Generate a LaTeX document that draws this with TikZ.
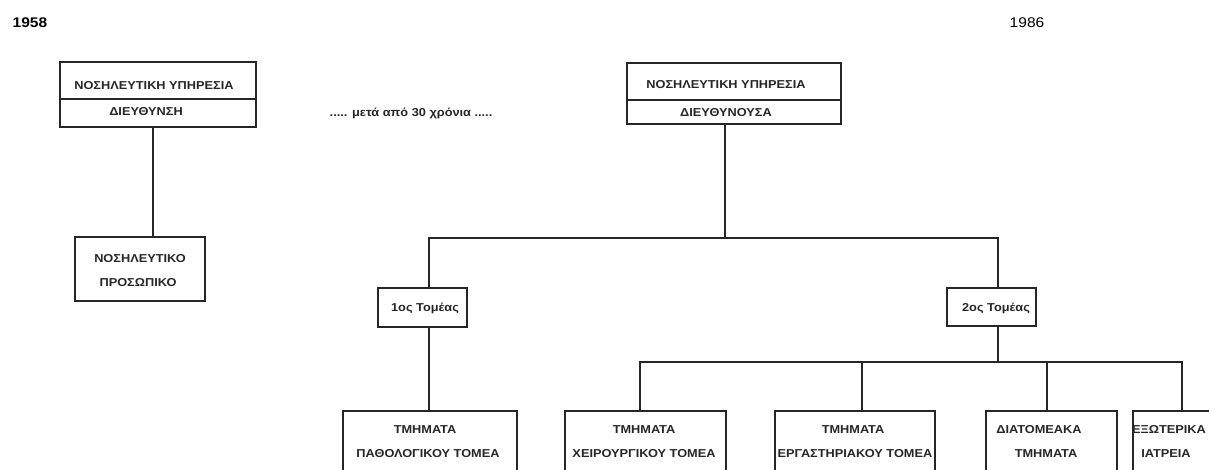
\documentclass[tikz,border=0pt]{standalone}
\usepackage{fontspec}
\setmainfont{Liberation Sans}
\newfontfamily\boxfont[FakeStretch=1.11]{Liberation Sans}
\begin{document}
\begin{tikzpicture}[x=1pt,y=-1pt,
  ln/.style={line width=1.5pt,draw=black!85},
  box/.style={ln,rectangle,inner sep=0pt,fill=none},
  txt/.style={inner sep=0pt,anchor=base,font=\boxfont\bfseries\fontsize{11.5}{13}\selectfont,text=black!85},
  stxt/.style={inner sep=0pt,anchor=base,font=\boxfont\bfseries\fontsize{11.5}{13}\selectfont,text=black!85}]
\useasboundingbox (0,0) rectangle (1209,470);
\clip (0,0) rectangle (1209,470);
% years
\node[inner sep=0pt,anchor=base,font=\boxfont\bfseries\fontsize{14}{16}\selectfont] (y1) at (30,27.5) {1958};
\node[inner sep=0pt,anchor=base,font=\boxfont\fontsize{14}{16}\selectfont] (y2) at (1027,27.5) {1986};
% left (1958)
\node[box,minimum width=196pt,minimum height=37pt] (ltop) at (158,80.5) {};
\node[box,minimum width=196pt,minimum height=28pt] (lbot) at (158,113) {};
\node[txt] (lt1) at (154,90) {ΝΟΣΗΛΕΥΤΙΚΗ ΥΠΗΡΕΣΙΑ};
\node[txt] (lt2) at (146,116) {ΔΙΕΥΘΥΝΣΗ};
\node[box,minimum width=130pt,minimum height=64pt] (staff) at (140,269) {};
\node[txt] (st1) at (140,262) {ΝΟΣΗΛΕΥΤΙΚΟ};
\node[txt] (st2) at (138,286) {ΠΡΟΣΩΠΙΚΟ};
\draw[ln] (153,0 |- lbot.south) -- (153,0 |- staff.north);
% middle text
\node[stxt] (mid) at (411,117) {..... μετά από 30 χρόνια .....};
% right (1986)
\node[box,minimum width=214pt,minimum height=37pt] (rtop) at (734,81.5) {};
\node[box,minimum width=214pt,minimum height=24pt] (rbot) at (734,112) {};
\node[txt] (rt1) at (726,89) {ΝΟΣΗΛΕΥΤΙΚΗ ΥΠΗΡΕΣΙΑ};
\node[txt] (rt2) at (726,117) {ΔΙΕΥΘΥΝΟΥΣΑ};
% sectors
\node[box,minimum width=89pt,minimum height=39pt] (s1) at (422.5,307.5) {};
\node[stxt] (s1t) at (425,311) {1ος Τομέας};
\node[box,minimum width=89pt,minimum height=38pt] (s2) at (991.5,307) {};
\node[stxt] (s2t) at (996,311) {2ος Τομέας};
\coordinate (h1) at (429,238);
\coordinate (h2) at (998,238);
\draw[ln] (725,0 |- rbot.south) -- (725,238);
\draw[ln] (429,0 |- s1.north) -- (h1) -- (h2) -- (998,0 |- s2.north);
% departments
\node[box,minimum width=174pt,minimum height=79pt] (b1) at (430,450.5) {};
\node[box,minimum width=161pt,minimum height=79pt] (b2) at (645.5,450.5) {};
\node[box,minimum width=160pt,minimum height=79pt] (b3) at (855,450.5) {};
\node[box,minimum width=131pt,minimum height=79pt] (b4) at (1051.5,450.5) {};
\node[box,minimum width=127pt,minimum height=79pt] (b5) at (1196.5,450.5) {};
\node[txt] (b1a) at (425,433) {ΤΜΗΜΑΤΑ};
\node[txt] (b1b) at (428,457) {ΠΑΘΟΛΟΓΙΚΟΥ ΤΟΜΕΑ};
\node[txt] (b2a) at (644,433) {ΤΜΗΜΑΤΑ};
\node[txt] (b2b) at (644,457) {ΧΕΙΡΟΥΡΓΙΚΟΥ ΤΟΜΕΑ};
\node[txt] (b3a) at (853,433) {ΤΜΗΜΑΤΑ};
\node[txt] (b3b) at (855,457) {ΕΡΓΑΣΤΗΡΙΑΚΟΥ ΤΟΜΕΑ};
\node[txt] (b4a) at (1039,433) {ΔΙΑΤΟΜΕΑΚΑ};
\node[txt] (b4b) at (1046,457) {ΤΜΗΜΑΤΑ};
\node[txt] (b5a) at (1169,433) {ΕΞΩΤΕΡΙΚΑ};
\node[txt] (b5b) at (1166,457) {ΙΑΤΡΕΙΑ};
\draw[ln] (429,0 |- s1.south) -- (429,0 |- b1.north);
\coordinate (h3) at (640,362);
\coordinate (h4) at (1182,362);
\draw[ln] (998,0 |- s2.south) -- (998,362);
\draw[ln] (640,0 |- b2.north) -- (h3) -- (h4) -- (1182,0 |- b5.north);
\draw[ln] (862,362) -- (862,0 |- b3.north);
\draw[ln] (1047,362) -- (1047,0 |- b4.north);
\end{tikzpicture}
\end{document}
